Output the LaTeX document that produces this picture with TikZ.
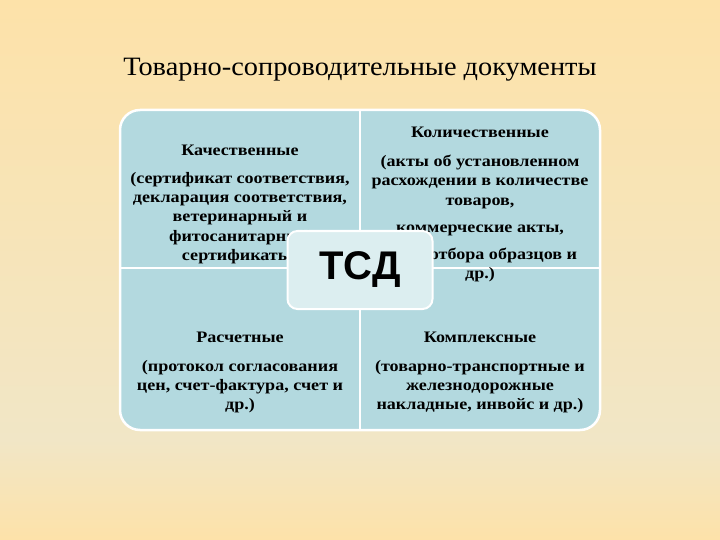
\documentclass[tikz,border=0pt]{standalone}
\usepackage{fontspec}
\setmainfont{Liberation Serif}
\newfontfamily\cellfont[FakeStretch=1.13]{Liberation Serif}
\newfontfamily\titlefont[FakeStretch=1.07]{Liberation Serif}
\newfontfamily\tsdfont{Liberation Sans}
\usetikzlibrary{positioning}

\definecolor{bgtop}{HTML}{FDE2A9}
\definecolor{bgmid}{HTML}{F1E6C6}
\definecolor{quadfill}{HTML}{B3D9DF}
\definecolor{boxfill}{HTML}{DCEEF0}

\begin{document}
\begin{tikzpicture}[x=1pt,y=-1pt,
  head/.style={font=\cellfont\bfseries\fontsize{16}{19.3}\selectfont,inner sep=0pt},
  body/.style={font=\cellfont\bfseries\fontsize{16}{19.3}\selectfont,align=center,inner sep=0pt,anchor=north}]

% Background, shaded top to bottom.
\shade[top color=bgtop,bottom color=bgmid] (0,0) rectangle (720,440);
\shade[top color=bgmid,bottom color=bgtop] (0,440) rectangle (720,540);
\useasboundingbox (0,0) rectangle (720,540);

\node[font=\titlefont\fontsize{26.5}{26.5}\selectfont] (title) at (360,70) {Товарно-сопроводительные документы};

% Four quadrants and the white dividing lines.
\draw[white,line width=2.5pt,fill=quadfill,rounded corners=20pt] (120,110) rectangle (600,430);
\draw[white,line width=2pt] (360,110) -- (360,430);
\draw[white,line width=2pt] (120,268) -- (600,268);

% Upper left
\node[head] (qual) at (240,150) {Качественные};
\node[body] (qualtext) at (240,172) {(сертификат соответствия,\\декларация соответствия,\\ветеринарный и\\фитосанитарный\\сертификаты)};

% Upper right
\node[head] (quant) at (480,132) {Количественные};
\node[body] (quanttext) at (480,155) {(акты об установленном\\расхождении в количестве\\товаров,\\[7.7pt]коммерческие акты,\\[7.7pt]акты отбора образцов и\\др.)};

% Lower left
\node[head] (calc) at (240,337) {Расчетные};
\node[body] (calctext) at (240,360) {(протокол согласования\\цен, счет-фактура, счет и\\др.)};

% Lower right
\node[head] (compl) at (480,337) {Комплексные};
\node[body] (compltext) at (480,360) {(товарно-транспортные и\\железнодорожные\\накладные, инвойс и др.)};

% Centre box over everything
\node[draw=white,line width=2pt,fill=boxfill,rounded corners=10pt,minimum width=145pt,minimum height=78pt,
  font=\tsdfont\bfseries\fontsize{40}{40}\selectfont] (tsd) at (360,270) {ТСД};

\end{tikzpicture}
\end{document}
